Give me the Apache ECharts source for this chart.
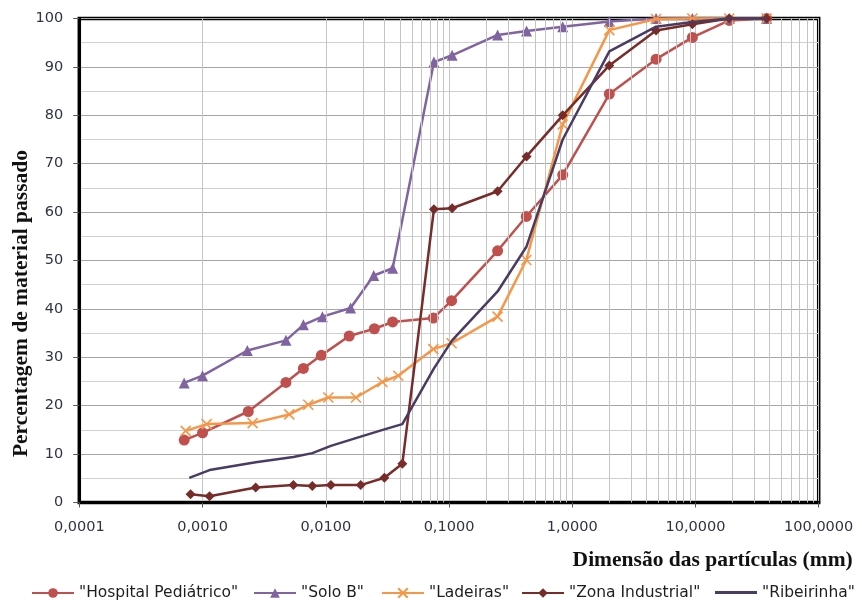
<!DOCTYPE html>
<html>
<head>
<meta charset="utf-8">
<script src="https://cdn.jsdelivr.net/npm/echarts@6/dist/echarts.min.js"></script>
<style>
html,body{margin:0;padding:0;background:#fff;}
#chart{width:862px;height:604px;}
</style>
</head>
<body>
<div id="chart"></div>
<script>
// ---- Data ----
const seriesNames = ['"Hospital Pediátrico"', '"Solo B"', '"Ladeiras"', '"Zona Industrial"', '"Ribeirinha"'];

const hospX = [0.00071, 0.0010, 0.00235, 0.00475, 0.00658, 0.0092, 0.0155, 0.0248, 0.0349, 0.0746, 0.105, 0.248, 0.424, 0.837, 2.0, 4.79, 9.44, 18.8, 37.8];
const hospY = [12.9, 14.4, 18.8, 24.8, 27.7, 30.4, 34.4, 35.9, 37.3, 38.1, 41.7, 52.0, 59.1, 67.7, 84.4, 91.6, 96.1, 99.6, 100];

const soloX = [0.00071, 0.0010, 0.00231, 0.00475, 0.00658, 0.0094, 0.0159, 0.0245, 0.0349, 0.0755, 0.106, 0.248, 0.426, 0.837, 2.0, 4.79, 9.44, 18.8, 37.8];
const soloY = [24.7, 26.2, 31.4, 33.5, 36.7, 38.4, 40.2, 46.9, 48.4, 91.0, 92.4, 96.6, 97.4, 98.3, 99.4, 100, 100, 100, 100];

const ladX = [0.00073, 0.00108, 0.00255, 0.00506, 0.00721, 0.0105, 0.0176, 0.0288, 0.0388, 0.0746, 0.105, 0.248, 0.424, 0.837, 2.0, 4.79, 9.44, 18.8, 37.8];
const ladY = [14.8, 16.2, 16.4, 18.2, 20.2, 21.7, 21.7, 24.9, 26.2, 31.7, 32.9, 38.4, 50.1, 78.1, 97.6, 99.9, 100, 100, 100];

const zonaX = [0.0008, 0.00114, 0.0027, 0.00546, 0.00778, 0.011, 0.0192, 0.0299, 0.0418, 0.0755, 0.106, 0.248, 0.426, 0.837, 2.0, 4.79, 9.44, 18.8, 37.8];
const zonaY = [1.7, 1.3, 3.1, 3.6, 3.4, 3.6, 3.6, 5.1, 8.0, 60.6, 60.8, 64.3, 71.5, 80.0, 90.3, 97.5, 98.8, 100, 100];

const ribX = [0.00078, 0.00114, 0.0027, 0.00546, 0.00778, 0.011, 0.0192, 0.0299, 0.0418, 0.0755, 0.106, 0.248, 0.426, 0.837, 2.0, 4.79, 9.44, 18.8, 37.8];
const ribY = [5.1, 6.7, 8.3, 9.4, 10.2, 11.7, 13.6, 15.1, 16.2, 27.7, 33.5, 43.6, 52.9, 75.0, 93.2, 98.3, 99.3, 100, 100];

const yTicks = [0, 10, 20, 30, 40, 50, 60, 70, 80, 90, 100];
const xDecades = [0.0001, 0.001, 0.01, 0.1, 1, 10, 100];

// ---- Build chart ----
const colors = ['#C0504D', '#8064A2', '#F79646', '#772C2A', '#4A3B62'];
function zip(xs, ys) { return xs.map((x, i) => [x, ys[i]]); }

// minor vertical grid lines (2..9 within each decade)
const minorLines = [];
for (let d = 0; d < xDecades.length - 1; d++) {
  for (let k = 2; k <= 9; k++) minorLines.push({ xAxis: xDecades[d] * k });
}

const chart = echarts.init(document.getElementById('chart'), null, { renderer: 'canvas' });
const labelFont = 'DejaVu Sans';

const legendLefts = [26, 248, 376, 516, 710];
const legends = seriesNames.map((n, i) => {
  const isLast = i === 4;
  return {
    data: isLast ? [{ name: n, icon: 'rect' }] : [n],
    left: legendLefts[i], top: isLast ? 579.5 : 580, itemWidth: 42, itemHeight: isLast ? 3 : 12, itemGap: 0,
    textStyle: { fontFamily: labelFont, fontSize: 15.5, color: '#1e1e1e' }, selectedMode: false
  };
});

const seriesDefs = [
  { x: hospX, y: hospY, symbol: 'circle', size: 11 },
  { x: soloX, y: soloY, symbol: 'triangle', size: 11 },
  { x: ladX, y: ladY, symbol: 'path://M0,0L10,10M10,0L0,10', size: 10 },
  { x: zonaX, y: zonaY, symbol: 'diamond', size: 10 },
  { x: ribX, y: ribY, symbol: 'none', size: 0 }
];

const series = seriesDefs.map((d, i) => {
  const s = {
    name: seriesNames[i], type: 'line', data: zip(d.x, d.y),
    symbol: d.symbol, symbolSize: d.size, showSymbol: d.symbol !== 'none',
    lineStyle: { color: colors[i], width: 2.5 },
    itemStyle: { color: colors[i] },
    emphasis: { disabled: true }, animation: false, z: 3 + i, clip: false
  };
  if (i === 2) {
    s.itemStyle = { color: colors[i], borderColor: colors[i], borderWidth: 1.6 };
  }
  return s;
});

series.unshift({
  type: 'line', data: [], silent: true, animation: false, z: 1,
  markLine: {
    silent: true, symbol: ['none', 'none'], animation: false,
    label: { show: false },
    lineStyle: { color: '#c4c4c4', width: 1, type: 'solid' },
    emphasis: { disabled: true },
    data: minorLines
  }
});

chart.setOption({
  animation: false,
  backgroundColor: '#ffffff',
  grid: { left: 79.3, right: 43.3, top: 18.5, bottom: 101.5, show: true, borderColor: '#000', borderWidth: 3.5, backgroundColor: 'transparent' },
  legend: legends,
  xAxis: {
    type: 'log', logBase: 10, min: 0.0001, max: 100,
    name: 'Dimensão das partículas (mm)', nameLocation: 'end', nameGap: 0,
    nameTextStyle: { fontFamily: 'Liberation Serif', fontWeight: 'bold', fontSize: 21.5, color: '#111', align: 'right', verticalAlign: 'top', padding: [47, -34, 0, 0] },
    axisLine: { show: true, lineStyle: { color: '#000', width: 3 } },
    axisTick: { show: true, length: 5, lineStyle: { color: '#555' } },
    axisLabel: { fontFamily: labelFont, fontSize: 14.5, color: '#2e3443', margin: 17,
      formatter: v => v.toFixed(4).replace('.', ',') },
    splitLine: { show: true, lineStyle: { color: '#c4c4c4', width: 1 } },
    minorTick: { show: false }, minorSplitLine: { show: false }
  },
  yAxis: {
    type: 'value', min: 0, max: 100, interval: 10,
    axisLine: { show: true, lineStyle: { color: '#000', width: 3 } },
    axisTick: { show: true, length: 6, lineStyle: { color: '#555' } },
    axisLabel: { fontFamily: labelFont, fontSize: 14.5, color: '#2e3443', margin: 16 },
    splitLine: { show: true, lineStyle: { color: '#a6a6a6', width: 1.2 } },
    minorTick: { show: false, splitNumber: 2 },
    minorSplitLine: { show: true, lineStyle: { color: '#d0d0d0', width: 1 } }
  },
  graphic: [{
    type: 'text', left: 10, top: 150, rotation: Math.PI / 2,
    style: { text: 'Percentagem de material passado', font: 'bold 21.5px "Liberation Serif"', fill: '#111' },
    silent: true
  }],
  series: series
});
</script>
</body>
</html>
